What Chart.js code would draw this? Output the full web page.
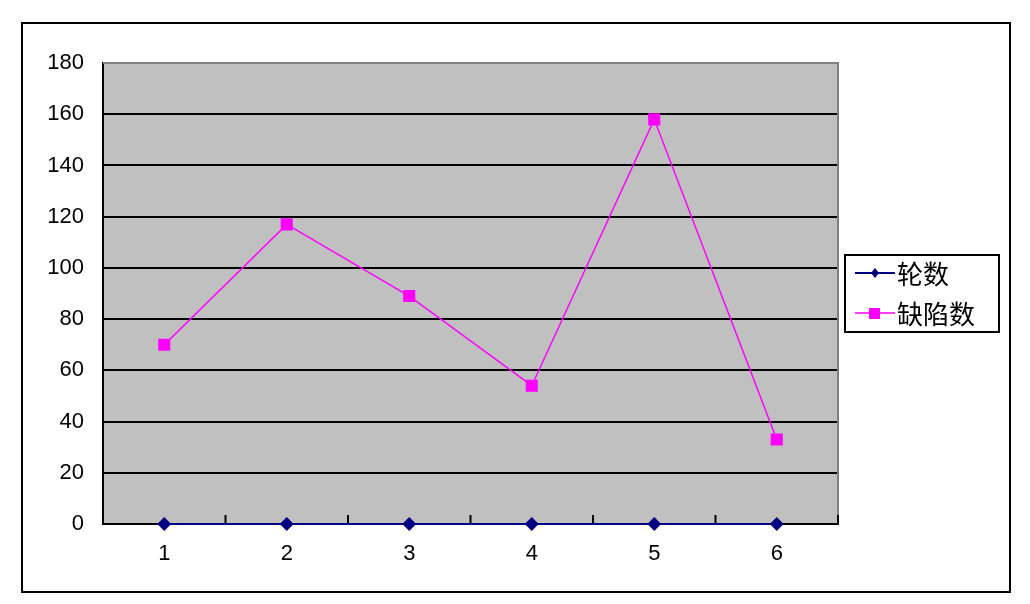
<!DOCTYPE html>
<html>
<head>
<meta charset="utf-8">
<script src="https://cdn.jsdelivr.net/npm/chart.js@4.4.1/dist/chart.umd.min.js"></script>
<style>
  html, body { margin: 0; padding: 0; background: #fff; }
  #wrap { width: 1030px; height: 604px; position: relative; }
</style>
</head>
<body>
<div id="wrap"><canvas id="chart" width="1030" height="604"></canvas></div>
<script>
// chart data
const rounds = ['1', '2', '3', '4', '5', '6'];
const roundCounts = [0, 0, 0, 0, 0, 0];
const defectCounts = [70, 117, 89, 54, 158, 33];
const yMin = 0;
const yMax = 180;
const yStep = 20;

const tickFont = { family: 'Liberation Sans, Arial, sans-serif', size: 22 };

// Excel-like frame, plot background and legend box
const excelFrame = {
    id: 'excelFrame',
    beforeDraw(chart) {
        const { ctx, chartArea: a } = chart;
        ctx.save();
        ctx.fillStyle = '#fff';
        ctx.fillRect(0, 0, chart.width, chart.height);
        ctx.strokeStyle = '#000';
        ctx.lineWidth = 2;
        ctx.strokeRect(22, 23, 988, 569);
        ctx.fillStyle = '#c0c0c0';
        ctx.fillRect(a.left, a.top, a.right - a.left, a.bottom - a.top);
        ctx.restore();
    },
    beforeDatasetsDraw(chart) {
        const { ctx, chartArea: a, scales } = chart;
        ctx.save();
        ctx.strokeStyle = '#808080';
        ctx.lineWidth = 2;
        ctx.beginPath();
        ctx.moveTo(a.left, a.top);
        ctx.lineTo(a.right, a.top);
        ctx.lineTo(a.right, a.bottom);
        ctx.stroke();
        // category tick marks between labels, pointing up into the plot
        const x = scales.x;
        ctx.strokeStyle = '#000';
        ctx.lineWidth = 2;
        ctx.beginPath();
        for (let i = 0; i < rounds.length; i++) {
            const px = i < rounds.length - 1
                ? (x.getPixelForValue(i) + x.getPixelForValue(i + 1)) / 2
                : a.right;
            ctx.moveTo(px, a.bottom);
            ctx.lineTo(px, a.bottom - 9);
        }
        ctx.stroke();
        ctx.restore();
    },
    afterDraw(chart) {
        const { ctx } = chart;
        ctx.save();
        ctx.strokeStyle = '#000';
        ctx.lineWidth = 2;
        ctx.strokeRect(845, 255, 154, 77);
        const rows = [273, 313];
        chart.data.datasets.forEach((ds, i) => {
            const y = rows[i];
            ctx.strokeStyle = ds.borderColor;
            ctx.lineWidth = ds.borderWidth;
            ctx.beginPath();
            ctx.moveTo(855, y);
            ctx.lineTo(895, y);
            ctx.stroke();
            ctx.fillStyle = ds.pointBackgroundColor;
            if (ds.pointStyle === 'rect') {
                ctx.fillRect(869, y - 5, 11, 11);
            } else {
                ctx.beginPath();
                ctx.moveTo(875, y - 5);
                ctx.lineTo(879, y);
                ctx.lineTo(875, y + 5);
                ctx.lineTo(871, y);
                ctx.closePath();
                ctx.fill();
            }
            ctx.fillStyle = '#000';
            ctx.font = '26px "Noto Sans CJK SC", sans-serif';
            ctx.textBaseline = 'middle';
            ctx.fillText(ds.label, 897, y + 1);
        });
        ctx.restore();
    }
};

new Chart(document.getElementById('chart'), {
    type: 'line',
    data: {
        labels: rounds,
        datasets: [
            {
                label: '轮数',
                data: roundCounts,
                borderColor: '#000080',
                backgroundColor: '#000080',
                pointBackgroundColor: '#000080',
                pointBorderColor: '#000080',
                pointStyle: 'rectRot',
                pointRadius: 5.5,
                borderWidth: 2,
                tension: 0,
                clip: false
            },
            {
                label: '缺陷数',
                data: defectCounts,
                borderColor: '#ff00ff',
                backgroundColor: '#ff00ff',
                pointBackgroundColor: '#ff00ff',
                pointBorderColor: '#ff00ff',
                pointStyle: 'rect',
                pointRadius: 7.5,
                borderWidth: 1.5,
                tension: 0,
                clip: false
            }
        ]
    },
    options: {
        responsive: false,
        animation: false,
        layout: { padding: { left: 0, top: 63, right: 192, bottom: 0 } },
        plugins: {
            legend: { display: false },
            tooltip: { enabled: false }
        },
        scales: {
            x: {
                offset: true,
                grid: { display: false },
                border: { display: true, color: '#000', width: 2 },
                ticks: { color: '#000', font: tickFont, padding: 9, maxRotation: 0 },
                afterFit: (scale) => { scale.height = 80; }
            },
            y: {
                min: yMin,
                max: yMax,
                grid: {
                    drawTicks: false,
                    color: (c) => (c.tick && c.tick.value === yMax ? '#808080' : '#000'),
                    lineWidth: 2
                },
                border: { display: true, color: '#000', width: 2 },
                ticks: { stepSize: yStep, color: '#000', font: tickFont, padding: 19 },
                afterFit: (scale) => { scale.width = 103; }
            }
        }
    },
    plugins: [excelFrame]
});
</script>
</body>
</html>
